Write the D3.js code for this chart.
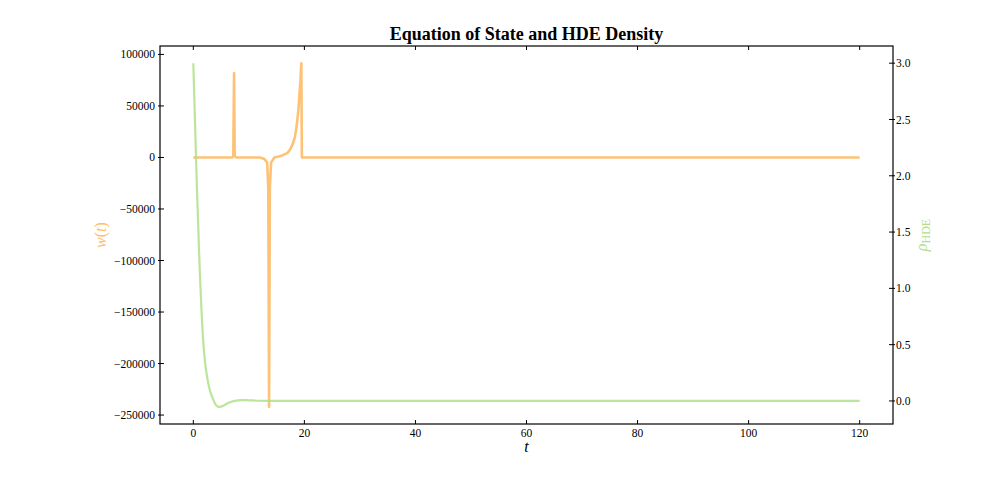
<!DOCTYPE html>
<html>
<head>
<meta charset="utf-8">
<script src="https://cdn.jsdelivr.net/npm/d3@7"></script>
<style>
  body { margin: 0; background: #fff; }
  svg text { font-family: "Liberation Serif", "DejaVu Serif", serif; fill: #000; }
  .tick-label { font-size: 11.5px; }
</style>
</head>
<body>
<div id="chart"></div>
<script>
// w(t) series (equation of state)
var wTime  = [0, 7.0, 7.2, 7.34, 7.45, 7.7, 12.0, 12.8, 13.3, 13.5, 13.64, 13.78, 14.0, 14.6, 15.2, 16.0, 17.0, 17.4, 17.9, 18.3, 18.6, 18.9, 19.1, 19.3, 19.45, 19.55, 120];
var wValue = [0, 0, 1500, 82000, 1500, 0, 0, -1500, -5000, -30000, -242000, -30000, -5000, 0, 800, 2000, 4500, 7500, 13000, 20000, 30000, 45000, 60000, 75000, 91500, 0, 0];

// rho_HDE series
var rhoTime  = [0, 0.2, 0.4, 0.6, 0.8, 1.0, 1.2, 1.5, 1.8, 2.1, 2.4, 2.8, 3.2, 3.6, 4.0, 4.5, 5.0, 5.5, 6.0, 7.0, 8.0, 9.0, 10, 12, 15, 20, 120];
var rhoValue = [3.0, 2.66, 2.32, 1.97, 1.68, 1.38, 1.11, 0.78, 0.52, 0.35, 0.24, 0.13, 0.06, 0.01, -0.03, -0.052, -0.05, -0.04, -0.025, -0.005, 0.005, 0.008, 0.006, 0.002, 0.0, 0.0, 0.0];

var xTicks    = [0, 20, 40, 60, 80, 100, 120];
var wTicks    = [-250000, -200000, -150000, -100000, -50000, 0, 50000, 100000];
var rhoTicks  = [0.0, 0.5, 1.0, 1.5, 2.0, 2.5, 3.0];

var width = 996, height = 492;
var margin = {top: 46, right: 103, bottom: 68, left: 160};
var plotW = width - margin.left - margin.right;
var plotH = height - margin.top - margin.bottom;

var orange = '#fdbf6f', green = '#b2df8a';

function padded(arr) {
  var ext = d3.extent(arr), p = (ext[1] - ext[0]) * 0.05;
  return [ext[0] - p, ext[1] + p];
}

var x = d3.scaleLinear().domain(padded(wTime)).range([0, plotW]);
var yW = d3.scaleLinear().domain(padded(wValue)).range([plotH, 0]);
var yR = d3.scaleLinear().domain(padded(rhoValue)).range([plotH, 0]);

var svg = d3.select('#chart').append('svg')
  .attr('width', width)
  .attr('height', height)
.append('g')
  .attr('transform', 'translate(' + margin.left + ',' + margin.top + ')');

var fmtMinus = function(s) { return s.replace('-', '\u2212'); };

// clip
svg.append('clipPath').attr('id', 'clip')
  .append('rect').attr('width', plotW).attr('height', plotH);

var wData = wTime.map(function(t, i) { return [t, wValue[i]]; });
var rData = rhoTime.map(function(t, i) { return [t, rhoValue[i]]; });

svg.append('path')
  .datum(wData)
  .attr('clip-path', 'url(#clip)')
  .attr('fill', 'none')
  .attr('stroke', orange)
  .attr('stroke-opacity', 0.95)
  .attr('stroke-width', 2.6)
  .attr('stroke-linejoin', 'round')
  .attr('d', d3.line().x(function(d) { return x(d[0]); }).y(function(d) { return yW(d[1]); }));

svg.append('path')
  .datum(rData)
  .attr('clip-path', 'url(#clip)')
  .attr('fill', 'none')
  .attr('stroke', green)
  .attr('stroke-opacity', 0.85)
  .attr('stroke-width', 2.2)
  .attr('d', d3.line().curve(d3.curveMonotoneX).x(function(d) { return x(d[0]); }).y(function(d) { return yR(d[1]); }));

// frame
svg.append('rect')
  .attr('width', plotW).attr('height', plotH)
  .attr('fill', 'none').attr('stroke', '#000').attr('stroke-width', 1.2);

// x axis bottom + top ticks
xTicks.forEach(function(v) {
  var px = x(v);
  svg.append('line').attr('x1', px).attr('x2', px).attr('y1', plotH).attr('y2', plotH - 4).attr('stroke', '#000');
  svg.append('line').attr('x1', px).attr('x2', px).attr('y1', 0).attr('y2', 4).attr('stroke', '#000');
  svg.append('text').attr('class', 'tick-label')
    .attr('x', px).attr('y', plotH + 13)
    .attr('text-anchor', 'middle')
    .text(v);
});

// left axis
wTicks.forEach(function(v) {
  var py = yW(v);
  svg.append('line').attr('x1', -2).attr('x2', 4).attr('y1', py).attr('y2', py).attr('stroke', '#000');
  svg.append('text').attr('class', 'tick-label')
    .attr('x', -5).attr('y', py).attr('dy', '0.35em')
    .attr('text-anchor', 'end')
    .text(fmtMinus(String(v)));
});

// right axis
rhoTicks.forEach(function(v) {
  var py = yR(v);
  svg.append('line').attr('x1', plotW - 4).attr('x2', plotW + 2).attr('y1', py).attr('y2', py).attr('stroke', '#000');
  svg.append('text').attr('class', 'tick-label')
    .attr('x', plotW + 3).attr('y', py).attr('dy', '0.35em')
    .attr('text-anchor', 'start')
    .text(d3.format('.1f')(v));
});

// title
svg.append('text')
  .attr('x', plotW / 2).attr('y', -6)
  .attr('text-anchor', 'middle')
  .style('font-size', '18px')
  .style('font-weight', 'bold')
  .text('Equation of State and HDE Density');

// x label
svg.append('text')
  .attr('x', plotW / 2).attr('y', plotH + 28)
  .attr('text-anchor', 'middle')
  .style('font-size', '16px')
  .style('font-style', 'italic')
  .text('t');

// left label
svg.append('text')
  .attr('transform', 'translate(' + (-54) + ',' + (plotH / 2) + ') rotate(-90)')
  .attr('text-anchor', 'middle')
  .style('font-size', '16px')
  .style('fill', orange)
  .html('<tspan font-style="italic">w</tspan>(<tspan font-style="italic">t</tspan>)');

// right label
svg.append('text')
  .attr('transform', 'translate(' + (plotW + 34) + ',' + (plotH / 2) + ') rotate(-90)')
  .attr('text-anchor', 'middle')
  .style('font-size', '16px')
  .style('fill', green)
  .html('<tspan font-style="italic">\u03c1</tspan><tspan font-size="12px" dy="3">HDE</tspan>');
</script>
</body>
</html>
